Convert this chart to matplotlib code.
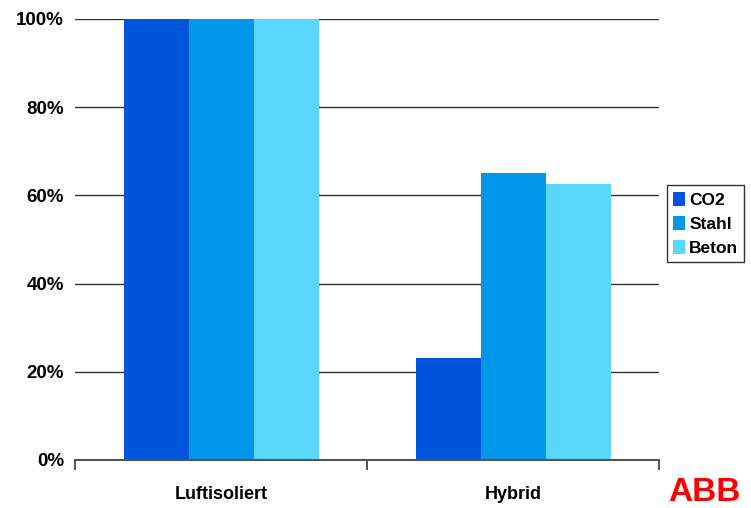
""" Kostenvergleich Luftisoliert / Hybrid

"""

import numpy as np
import matplotlib.pyplot as plt
from matplotlib.ticker import PercentFormatter

# --------------------------------------------------
#   Data
# --------------------------------------------------

categories = ["Luftisoliert", "Hybrid"]
co2 = [100, 23.2]
stahl = [100, 65]
beton = [100, 62.5]

series = [
    ("CO2", co2, "#0055DD"),
    ("Stahl", stahl, "#0096E9"),
    ("Beton", beton, "#5AD7FF"),
]

plt.rcParams["font.family"] = ["Liberation Sans", "DejaVu Sans"]
plt.rcParams["font.weight"] = "bold"

# --------------------------------------------------
#   Plot
# --------------------------------------------------

fig = plt.figure(figsize=(7.51, 5.08), dpi=100)
ax = fig.add_axes([0.0999, 0.0945, 0.7776, 0.8681])

x = np.arange(len(categories))
width = 0.2226
for i, (label, values, color) in enumerate(series):
    ax.bar(x + (i - 1) * width, values, width, color=color, label=label, zorder=2)

ax.set_xlim(-0.5, 1.5)
ax.set_ylim(0, 100)
ax.set_yticks(range(0, 101, 20))
ax.yaxis.set_major_formatter(PercentFormatter(decimals=0))
ax.grid(axis="y", color="#333333", linewidth=1.0, zorder=1)

ax.set_xticks([-0.5, 0.5, 1.5])
ax.set_xticklabels([])
ax.set_xticks(x, minor=True)
ax.set_xticklabels(categories, minor=True, fontsize=13, fontweight="bold")
ax.tick_params(axis="x", which="major", direction="out", length=7, color="#333333", width=1.2)
ax.tick_params(axis="x", which="minor", length=0, pad=19)
ax.tick_params(axis="y", length=0, pad=8, labelsize=13.5)
for lbl in ax.get_yticklabels():
    lbl.set_fontweight("bold")

for side in ("left", "right", "top"):
    ax.spines[side].set_visible(False)
ax.spines["bottom"].set_color("#555555")
ax.spines["bottom"].set_linewidth(1.5)

ax.legend(
    loc="center left", bbox_to_anchor=(1.013, 0.536),
    frameon=True, fancybox=False, edgecolor="black",
    handlelength=0.7, handleheight=0.9, handletextpad=0.25,
    borderpad=0.35, labelspacing=0.45, borderaxespad=0,
    prop={"size": 12.5, "weight": "bold"},
).get_frame().set_linewidth(1.0)

# Firmenlogo unten rechts
fig.text(0.89, 0.03, "ABB", color="#FF0000", fontsize=24, fontweight="bold",
         ha="left", va="center", family="Liberation Sans")

fig.savefig("out.png", dpi=100)
